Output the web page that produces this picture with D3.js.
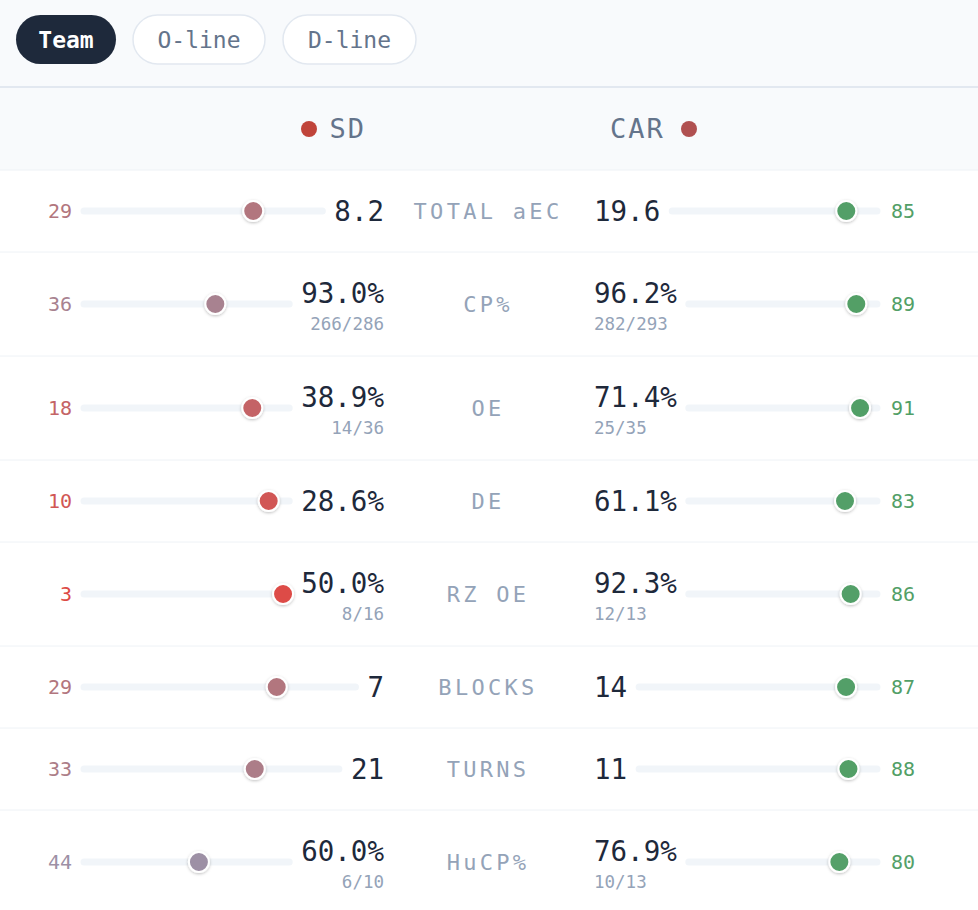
<!DOCTYPE html>
<html><head><meta charset="utf-8">
<script src="https://cdn.jsdelivr.net/npm/d3@7"></script>
<style>body{margin:0;background:#fff}svg{display:block;font-family:"DejaVu Sans Mono",monospace}</style>
</head><body><svg id="c" width="978" height="910"></svg>
<script>
const tabs = ["Team", "O-line", "D-line"];
const teams = ["SD", "CAR"];
const metrics = ["TOTAL aEC", "CP%", "OE", "DE", "RZ OE", "BLOCKS", "TURNS", "HuCP%"];
const sdValues = ["8.2", "93.0%", "38.9%", "28.6%", "50.0%", "7", "21", "60.0%"];
const sdSub = ["", "266/286", "14/36", "", "8/16", "", "", "6/10"];
const sdRanks = [29, 36, 18, 10, 3, 29, 33, 44];
const carValues = ["19.6", "96.2%", "71.4%", "61.1%", "92.3%", "14", "11", "76.9%"];
const carSub = ["", "282/293", "25/35", "", "12/13", "", "", "10/13"];
const carRanks = [85, 89, 91, 83, 86, 87, 88, 80];

const svg = d3.select("#c");
const W = 978;
const defs = svg.append("defs");
const f = defs.append("filter").attr("id", "sh").attr("x", "-50%").attr("y", "-50%").attr("width", "200%").attr("height", "200%");
f.append("feDropShadow").attr("dx", 0).attr("dy", 1).attr("stdDeviation", 1.5).attr("flood-color", "#000").attr("flood-opacity", 0.25);

// top area + header
svg.append("rect").attr("width", W).attr("height", 170).attr("fill", "#f8fafc");
svg.append("line").attr("x1", 0).attr("x2", W).attr("y1", 87).attr("y2", 87).attr("stroke", "#e2e8f0").attr("stroke-width", 2);
svg.append("line").attr("x1", 0).attr("x2", W).attr("y1", 170).attr("y2", 170).attr("stroke", "#eef2f6");

const tabX = [16, 133, 283], tabW = [100, 132, 133];
tabs.forEach((t, i) => {
  const g = svg.append("g").attr("transform", `translate(${tabX[i]},15)`);
  g.append("rect").attr("width", tabW[i]).attr("height", 49).attr("rx", 24.5)
    .attr("fill", i === 0 ? "#1e293b" : "#fff").attr("stroke", i === 0 ? "none" : "#e2e8f0").attr("stroke-width", 1.5);
  g.append("text").attr("x", tabW[i] / 2).attr("y", 33).attr("text-anchor", "middle")
    .attr("font-size", 23).attr("font-weight", i === 0 ? "bold" : "normal")
    .attr("fill", i === 0 ? "#fff" : "#64748b").text(t);
});

svg.append("text").attr("x", 366).attr("y", 138).attr("text-anchor", "end").attr("font-size", 27)
  .attr("letter-spacing", 2).attr("fill", "#64748b").text(teams[0]);
svg.append("circle").attr("cx", 309).attr("cy", 129).attr("r", 8).attr("fill", "#c0443a");
svg.append("text").attr("x", 610).attr("y", 138).attr("font-size", 27)
  .attr("letter-spacing", 2).attr("fill", "#64748b").text(teams[1]);
svg.append("circle").attr("cx", 689).attr("cy", 129).attr("r", 8).attr("fill", "#b05050");

const color = d3.scaleLinear().domain([0, 30, 45, 75, 100])
  .range(["#e2463f", "#b07880", "#9c92a8", "#55a06a", "#4f9e63"]);

let y0 = 170;
metrics.forEach((m, i) => {
  const hasSub = sdSub[i] || carSub[i];
  const h = hasSub ? 104 : 82;
  const cy = y0 + h / 2;
  const vy = hasSub ? cy - 1 : cy + 10;
  const g = svg.append("g");
  g.append("line").attr("x1", 0).attr("x2", W).attr("y1", y0 + h).attr("y2", y0 + h).attr("stroke", "#eef2f6");

  g.append("text").attr("x", 488).attr("y", cy + 8).attr("text-anchor", "middle").attr("font-size", 22)
    .attr("letter-spacing", 3.3).attr("fill", "#94a3b8").text(m);

  // left value
  const lv = g.append("text").attr("x", 384).attr("y", vy).attr("text-anchor", "end").attr("font-size", 27.5)
    .attr("font-weight", 500).attr("fill", "#1e293b").text(sdValues[i]);
  if (sdSub[i]) g.append("text").attr("x", 384).attr("y", cy + 26).attr("text-anchor", "end").attr("font-size", 17.5)
    .attr("fill", "#94a3b8").text(sdSub[i]);
  const lw = lv.node().getComputedTextLength();
  const lEnd = 384 - lw - 12;
  const xl = d3.scaleLinear().domain([0, 100]).range([lEnd, 84]);
  g.append("line").attr("x1", 84).attr("x2", lEnd).attr("y1", cy).attr("y2", cy)
    .attr("stroke", "#f1f5f9").attr("stroke-width", 7).attr("stroke-linecap", "round");
  g.append("circle").attr("cx", xl(sdRanks[i])).attr("cy", cy).attr("r", 10).attr("fill", color(sdRanks[i]))
    .attr("stroke", "#fff").attr("stroke-width", 2).attr("filter", "url(#sh)");
  g.append("text").attr("x", 72).attr("y", cy + 7).attr("text-anchor", "end").attr("font-size", 20)
    .attr("fill", color(sdRanks[i])).text(sdRanks[i]);

  // right value
  const rv = g.append("text").attr("x", 594).attr("y", vy).attr("font-size", 27.5)
    .attr("font-weight", 500).attr("fill", "#1e293b").text(carValues[i]);
  if (carSub[i]) g.append("text").attr("x", 594).attr("y", cy + 26).attr("font-size", 17.5)
    .attr("fill", "#94a3b8").text(carSub[i]);
  const rw = rv.node().getComputedTextLength();
  const rStart = 594 + rw + 12;
  const xr = d3.scaleLinear().domain([0, 100]).range([rStart, 877]);
  g.append("line").attr("x1", rStart).attr("x2", 877).attr("y1", cy).attr("y2", cy)
    .attr("stroke", "#f1f5f9").attr("stroke-width", 7).attr("stroke-linecap", "round");
  g.append("circle").attr("cx", xr(carRanks[i])).attr("cy", cy).attr("r", 10).attr("fill", color(carRanks[i]))
    .attr("stroke", "#fff").attr("stroke-width", 2).attr("filter", "url(#sh)");
  g.append("text").attr("x", 891).attr("y", cy + 7).attr("font-size", 20)
    .attr("fill", color(carRanks[i])).text(carRanks[i]);
  y0 += h;
});
</script></body></html>
